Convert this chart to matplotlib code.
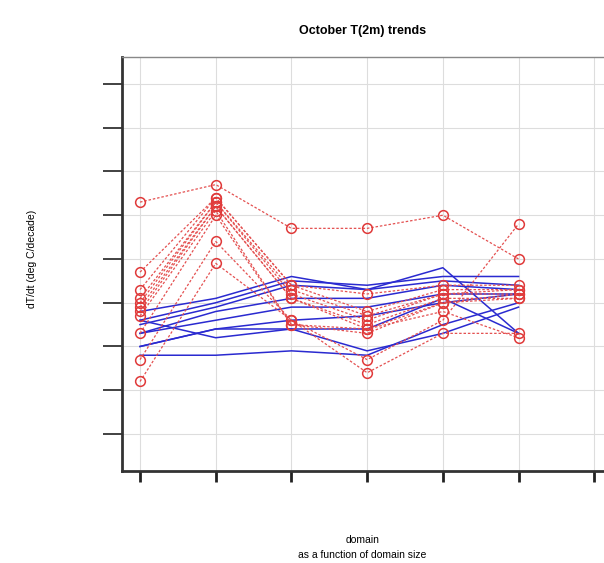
import numpy as np
import matplotlib.pyplot as plt

# domain index on the x axis
domains = [1, 2, 3, 4, 5, 6]

# red runs (dashed, open circles), dT/dt in deg C/decade
red_runs = [
    [0.13, 0.17, 0.07, 0.07, 0.10, -0.00],
    [-0.28, -0.01, -0.14, -0.26, -0.17, -0.17],
    [-0.23, 0.04, -0.14, -0.23, -0.14, 0.08],
    [-0.03, 0.14, -0.06, -0.08, -0.06, -0.06],
    [-0.07, 0.14, -0.06, -0.12, -0.07, -0.07],
    [-0.09, 0.13, -0.07, -0.13, -0.08, -0.07],
    [-0.10, 0.13, -0.08, -0.14, -0.08, -0.08],
    [-0.11, 0.12, -0.09, -0.15, -0.09, -0.09],
    [-0.12, 0.12, -0.09, -0.16, -0.10, -0.09],
    [-0.13, 0.11, -0.15, -0.16, -0.12, -0.18],
    [-0.17, 0.10, -0.15, -0.17, -0.10, -0.08],
]

# blue runs (solid lines)
blue_runs = [
    [-0.12, -0.09, -0.04, -0.07, -0.02, -0.17],
    [-0.14, -0.10, -0.05, -0.06, -0.04, -0.04],
    [-0.15, -0.11, -0.06, -0.07, -0.05, -0.06],
    [-0.17, -0.12, -0.09, -0.09, -0.06, -0.07],
    [-0.17, -0.14, -0.11, -0.11, -0.08, -0.08],
    [-0.20, -0.16, -0.14, -0.13, -0.10, -0.08],
    [-0.22, -0.22, -0.21, -0.22, -0.15, -0.10],
    [-0.14, -0.18, -0.16, -0.21, -0.17, -0.11],
    [-0.20, -0.16, -0.16, -0.16, -0.09, -0.17],
]

yticks = [-0.4, -0.3, -0.2, -0.1, 0.0, 0.1, 0.2, 0.3, 0.4]
xticks = [1, 2, 3, 4, 5, 6, 7]

plt.rcParams['font.family'] = ['Liberation Sans', 'DejaVu Sans']

fig = plt.figure(figsize=(6.04, 5.63), dpi=100)
ax = fig.add_axes([0.202, 0.1634, 0.8245, 0.7354])

for run in blue_runs:
    ax.plot(domains, run, color='#2a2ad0', lw=1.1, zorder=3)

for run in red_runs:
    ax.plot(domains, run, color='#e45050', lw=0.9, ls=(0, (2, 1.5)),
            marker='o', ms=7, mfc='none', mec='#e03a3a', mew=1.1, zorder=4)

ax.set_xlim(0.762, 7.34)
ax.set_ylim(-0.4846, 0.4617)
ax.set_xticks(xticks)
ax.set_yticks(yticks)
ax.set_xticklabels([])
ax.set_yticklabels([])
ax.grid(True, color='#dddddd', lw=0.8)
ax.set_axisbelow(True)

ax.tick_params(axis='x', direction='out', length=8, width=2, color='#222222')
ax.tick_params(axis='y', direction='out', length=14, width=1.3, color='#333333')

ax.spines['left'].set_linewidth(2)
ax.spines['left'].set_color('#333333')
ax.spines['bottom'].set_linewidth(2)
ax.spines['bottom'].set_color('#333333')
ax.spines['top'].set_linewidth(1)
ax.spines['top'].set_color('#888888')
ax.spines['right'].set_visible(False)

fig.text(0.60, 0.945, 'October T(2m) trends', ha='center', va='center',
         fontsize=9, fontweight='bold')
fig.text(0.60, 0.028, 'domain\nas a function of domain size', ha='center',
         va='center', fontsize=7.5, linespacing=1.6)
fig.text(0.053, 0.54, 'dT/dt (deg C/decade)', ha='center', va='center',
         rotation=90, fontsize=7.5)

plt.savefig('out.png', dpi=100)
